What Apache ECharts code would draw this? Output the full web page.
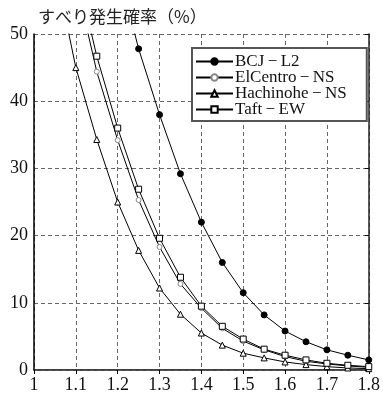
<!DOCTYPE html>
<html><head><meta charset="utf-8">
<script src="https://cdn.jsdelivr.net/npm/echarts@6/dist/echarts.min.js"></script>
<style>html,body{margin:0;padding:0;background:#fff}#c{width:383px;height:396px}</style>
</head><body><div id="c"></div>
<script>
const titleText = 'すべり発生確率（%）';
const xTicks = ['1','1.1','1.2','1.3','1.4','1.5','1.6','1.7','1.8'];
const yTicks = ['0','10','20','30','40','50'];
const seriesNames = ['BCJ\u2009−\u2009L2','ElCentro\u2009−\u2009NS','Hachinohe\u2009−\u2009NS','Taft\u2009−\u2009EW'];
const xBCJ = [1.2,1.25,1.3,1.35,1.4,1.45,1.5,1.55,1.6,1.65,1.7,1.75,1.8];
const yBCJ = [60,47.8,38,29.2,22,16,11.5,8.2,5.8,4.2,3.0,2.2,1.5];
const xEl = [1.1,1.15,1.2,1.25,1.3,1.35,1.4,1.45,1.5,1.55,1.6,1.65,1.7,1.75,1.8];
const yEl = [58,44.4,34.2,25.3,18.3,12.8,9.2,6.2,4.3,3.0,2.0,1.3,0.9,0.6,0.4];
const xHa = [1.05,1.1,1.15,1.2,1.25,1.3,1.35,1.4,1.45,1.5,1.55,1.6,1.65,1.7,1.75,1.8];
const yHa = [60,45,34.3,25,17.8,12.2,8.3,5.5,3.7,2.5,1.8,1.2,0.8,0.5,0.3,0.2];
const xTa = [1.1,1.15,1.2,1.25,1.3,1.35,1.4,1.45,1.5,1.55,1.6,1.65,1.7,1.75,1.8];
const yTa = [60,46.7,36.0,26.9,19.6,13.8,9.5,6.5,4.6,3.1,2.2,1.5,1.0,0.7,0.5];

const zip = (xs, ys) => xs.map((x, i) => [x, ys[i]]);
const serif = '"Liberation Serif","DejaVu Serif",serif';
const grid = {left:34, top:34, width:336, height:336};
const gridDash = {type:[4,3], color:'#666', width:1};
const chart = echarts.init(document.getElementById('c'), null, {renderer:'canvas'});
const fmtX = v => { const i = Math.round((v-1)*10); return xTicks[i] !== undefined ? xTicks[i] : ''; };
const fmtY = v => { const i = Math.round(v/10); return yTicks[i] !== undefined ? yTicks[i] : ''; };
function mk(name, data, symbol, size, fill, stroke){
  return {name, type:'line', data, symbol, symbolSize:size, showSymbol:true, clip:true,
    lineStyle:{color:'#000', width:1}, itemStyle:{color:fill, borderColor:stroke, borderWidth:1},
    emphasis:{disabled:true}, animation:false, z:3};
}
chart.setOption({
  animation:false,
  title:{text:titleText, left:33, top:3, textStyle:{fontFamily:'"Noto Sans CJK JP"', fontSize:17, fontWeight:'normal', color:'#222'}},
  grid,
  xAxis:[{type:'value', min:1, max:1.8, interval:0.1,
    axisLine:{show:true, onZero:false, lineStyle:{color:'#000', width:1.5}},
    axisTick:{show:false},
    axisLabel:{formatter:fmtX, fontFamily:serif, fontSize:18, color:'#111', margin:6},
    splitLine:{show:true, lineStyle:gridDash}},
   {type:'value', position:'top', min:1, max:1.8, interval:0.1,
    axisLine:{show:true, lineStyle:{color:'#555', width:1, type:[4,3]}},
    axisTick:{show:true, inside:true, length:4, lineStyle:{color:'#000'}},
    axisLabel:{show:false}, splitLine:{show:false}}],
  yAxis:[{type:'value', min:0, max:50, interval:10,
    axisLine:{show:true, onZero:false, lineStyle:{color:'#000', width:1.5}},
    axisTick:{show:false},
    axisLabel:{formatter:fmtY, fontFamily:serif, fontSize:18, color:'#111', margin:6},
    splitLine:{show:true, lineStyle:gridDash}},
   {type:'value', position:'right', min:0, max:50, interval:10,
    axisLine:{show:true, lineStyle:{color:'#222', width:1.5}},
    axisTick:{show:true, inside:true, length:4, lineStyle:{color:'#000'}},
    axisLabel:{show:false}, splitLine:{show:false}}],
  legend:{left:192, top:48, orient:'vertical', itemWidth:37, itemHeight:8, itemGap:-1,
    padding:[5,20,3,3], borderColor:'#555', borderWidth:2, backgroundColor:'#fff',
    textStyle:{fontFamily:serif, fontSize:17, lineHeight:15, color:'#111', padding:[0,0,0,-3]},
    data:seriesNames},
  series:[
    mk(seriesNames[0], zip(xBCJ,yBCJ), 'circle', 6, '#000', '#000'),
    mk(seriesNames[1], zip(xEl,yEl), 'circle', 5, '#fff', '#888'),
    mk(seriesNames[2], zip(xHa,yHa), 'triangle', 6, '#fff', '#000'),
    mk(seriesNames[3], zip(xTa,yTa), 'rect', 6, '#fff', '#000')
  ]
});
</script></body></html>
